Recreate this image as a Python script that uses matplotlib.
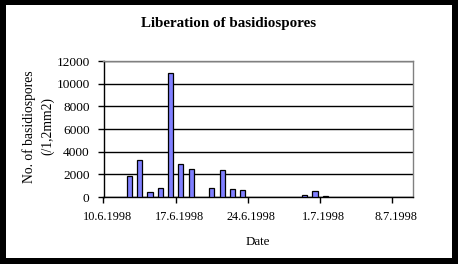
import datetime as dt
import matplotlib
matplotlib.use("Agg")
import matplotlib.pyplot as plt
import matplotlib.dates as mdates
import matplotlib.transforms as mtransforms
from matplotlib.patches import Rectangle
from matplotlib.ticker import FuncFormatter, MultipleLocator

plt.rcParams['font.family'] = ['Liberation Serif', 'DejaVu Serif']

# sampling dates and spore counts
dates = [dt.date(1998, 6, 12), dt.date(1998, 6, 13), dt.date(1998, 6, 14),
         dt.date(1998, 6, 15), dt.date(1998, 6, 16), dt.date(1998, 6, 17),
         dt.date(1998, 6, 18), dt.date(1998, 6, 20), dt.date(1998, 6, 21),
         dt.date(1998, 6, 22), dt.date(1998, 6, 23), dt.date(1998, 6, 29),
         dt.date(1998, 6, 30), dt.date(1998, 7, 1)]
spores = [1850, 3250, 400, 770, 10950, 2900, 2450,
          770, 2350, 680, 590, 150, 500, 60]

x_start = dt.date(1998, 6, 10)
x_end = dt.date(1998, 7, 10)
tick_dates = [dt.date(1998, 6, 10), dt.date(1998, 6, 17), dt.date(1998, 6, 24),
              dt.date(1998, 7, 1), dt.date(1998, 7, 8)]

fig = plt.figure(figsize=(4.58, 2.64), dpi=100)
fig.patch.set_facecolor('black')
W, H = 458, 264
fig.add_artist(Rectangle((6 / W, 6 / H), 446 / W, 253 / H, transform=fig.transFigure,
                         facecolor='white', edgecolor='none', zorder=-1))

ax = fig.add_axes([103.5 / W, (H - 197) / H, 309.5 / W, 136 / H])
ax.set_facecolor('white')

# bars sit in the middle of each day slot
xpos = [mdates.date2num(d) + 0.5 for d in dates]
ax.bar(xpos, spores, width=0.5, color='#8080ff', edgecolor='black', linewidth=0.9, zorder=3)

ax.set_xlim(mdates.date2num(x_start), mdates.date2num(x_end))
ax.set_ylim(0, 12000)
ax.yaxis.set_major_locator(MultipleLocator(2000))
ax.set_xticks([mdates.date2num(d) for d in tick_dates])
ax.xaxis.set_major_formatter(FuncFormatter(
    lambda v, pos: '{0.day}.{0.month}.{0.year}'.format(mdates.num2date(v))))

ax.grid(axis='y', color='black', linewidth=1.0, zorder=1)
ax.set_axisbelow(True)
for side in ['top', 'right']:
    ax.spines[side].set_color('#808080')
    ax.spines[side].set_linewidth(1.0)
for side in ['left', 'bottom']:
    ax.spines[side].set_color('black')
    ax.spines[side].set_linewidth(1.0)

ax.tick_params(axis='y', direction='out', length=4, width=1, pad=6, labelsize=9.6)
ax.tick_params(axis='x', direction='out', length=4, width=1, pad=6, labelsize=8.8)
offset = mtransforms.ScaledTranslation(3.5 / 100, 0, fig.dpi_scale_trans)
for lbl in ax.get_xticklabels():
    lbl.set_transform(lbl.get_transform() + offset)

ax.set_xlabel('Date', fontsize=9.4)
ax.xaxis.set_label_coords(0.5, -0.29)
ax.set_ylabel('No. of basidiospores\n(/1,2mm2)', fontsize=9.8, linespacing=1.5)
ax.yaxis.set_label_coords(-0.158, 0.52)

fig.text(229 / W, 1 - 23 / H, 'Liberation of basidiospores', ha='center', va='center',
         fontsize=10.8, fontweight='bold')

fig.savefig('out.png', dpi=100, facecolor=fig.get_facecolor())
